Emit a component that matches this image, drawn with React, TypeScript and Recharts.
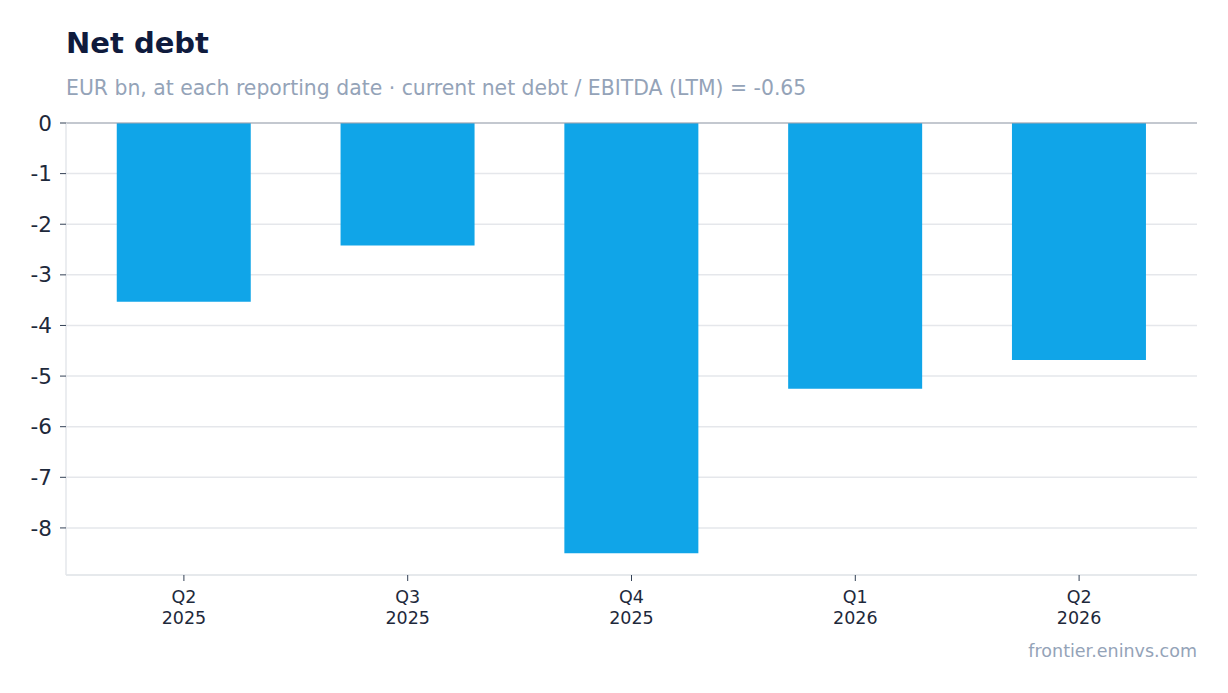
import React from 'react';
import { BarChart, Bar, XAxis, YAxis, CartesianGrid, ReferenceLine } from 'recharts';

const quarters = ['Q2 2025', 'Q3 2025', 'Q4 2025', 'Q1 2026', 'Q2 2026'];
const netDebt = [-3.53, -2.42, -8.5, -5.25, -4.68];
const yTicks = [0, -1, -2, -3, -4, -5, -6, -7, -8];

const data = quarters.map((q, i) => ({ name: q, value: netDebt[i] }));

const FONT = '"DejaVu Sans", sans-serif';

const XTick = (props: any) => {
  const { x, y, payload } = props;
  const [q, yr] = String(payload.value).split(' ');
  return (
    <text x={x} y={y} textAnchor="middle" fill="#1e293b" fontSize={17.5} fontFamily={FONT}>
      <tspan x={x} dy={20}>{q}</tspan>
      <tspan x={x} dy={21}>{yr}</tspan>
    </text>
  );
};

const App = () => {
  return (
    <div style={{ position: 'absolute', left: 0, top: 0, width: 1228, height: 693, background: '#fff', fontFamily: FONT }}>
      <div style={{ position: 'absolute', left: 66, top: 26, fontSize: 29, fontWeight: 'bold', color: '#0f1b3d' }}>
        Net debt
      </div>
      <div style={{ position: 'absolute', left: 66, top: 76, fontSize: 20.4, color: '#94a3b8' }}>
        EUR bn, at each reporting date · current net debt / EBITDA (LTM) = -0.65
      </div>
      <BarChart
        width={1228}
        height={693}
        data={data}
        margin={{ top: 123, right: 31, left: 16, bottom: 58 }}
        barCategoryGap="20%"
      >
        <CartesianGrid stroke="#e5e7eb" strokeWidth={1.5} vertical={false} />
        <XAxis
          dataKey="name"
          height={60}
          padding={{ left: 6, right: 6 }}
          tick={<XTick />}
          tickLine={{ stroke: '#334155' }}
          tickSize={6}
          axisLine={{ stroke: '#e5e7eb', strokeWidth: 1.5 }}
          interval={0}
        />
        <YAxis
          width={50}
          domain={[-8.93, 0]}
          ticks={yTicks}
          allowDataOverflow
          tick={{ fill: '#1e293b', fontSize: 21.5, fontFamily: FONT }}
          tickLine={{ stroke: '#334155' }}
          tickSize={6}
          tickMargin={8}
          axisLine={{ stroke: '#e5e7eb', strokeWidth: 1.5 }}
        />
        <Bar dataKey="value" fill="#10a5e8" isAnimationActive={false} />
        <ReferenceLine y={0} stroke="#9ca3af" strokeWidth={1} />
      </BarChart>
      <div style={{ position: 'absolute', right: 31, top: 641, fontSize: 17.5, color: '#94a3b8' }}>
        frontier.eninvs.com
      </div>
    </div>
  );
};

export default App;
